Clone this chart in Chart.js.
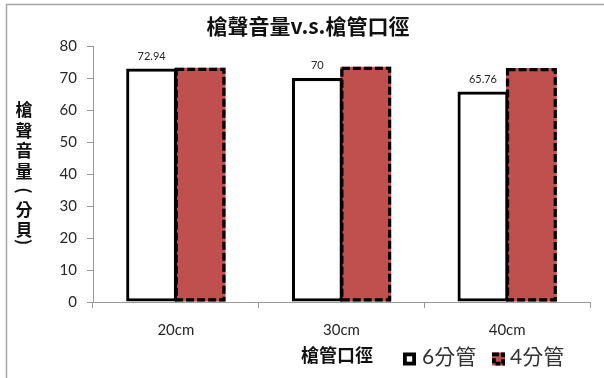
<!DOCTYPE html>
<html>
<head>
<meta charset="utf-8">
<script src="https://cdn.jsdelivr.net/npm/chart.js@4"></script>
<style>
  html, body { margin: 0; padding: 0; background: #ffffff; }
  #wrap { width: 604px; height: 378px; }
</style>
</head>
<body>
<div id="wrap"><canvas id="c" width="604" height="378"></canvas></div>
<script>
// Barrel diameter categories and measured gunshot loudness (dB)
const categories = ['20cm', '30cm', '40cm'];
const seriesNames = ['6分管', '4分管'];
const pipe6 = [72.94, 70, 65.76];
const pipe4 = [73.2, 73.5, 73.1];
const yTickValues = [0, 10, 20, 30, 40, 50, 60, 70, 80];

const chartTitle = '槍聲音量v.s.槍管口徑';
const yTitleChars = ['槍', '聲', '音', '量', '(', '分', '貝', ')'];
const xTitle = '槍管口徑';

const RED = '#C0504D';
const TEXT = '#262626';
const LATIN = "Lato, 'Noto Sans CJK TC', sans-serif";
const CJK = "'Noto Sans CJK TC', Lato, sans-serif";

// Outer frame line (left and top edges)
const framePlugin = {
  id: 'frame',
  beforeDraw(chart) {
    const ctx = chart.ctx;
    ctx.save();
    ctx.fillStyle = '#ffffff';
    ctx.fillRect(0, 0, chart.width, chart.height);
    ctx.strokeStyle = '#a6a6a6';
    ctx.lineWidth = 1.5;
    ctx.beginPath();
    ctx.moveTo(6.5, chart.height);
    ctx.lineTo(6.5, 4.5);
    ctx.lineTo(chart.width, 4.5);
    ctx.stroke();
    ctx.restore();
  }
};

// Dashed outline for the second series, plus value labels on the first
const barExtras = {
  id: 'barExtras',
  afterDatasetsDraw(chart) {
    const ctx = chart.ctx;
    ctx.save();
    const meta4 = chart.getDatasetMeta(1);
    ctx.strokeStyle = '#000000';
    ctx.lineWidth = 3.2;
    ctx.setLineDash([8, 3]);
    meta4.data.forEach(el => {
      const p = el.getProps(['x', 'y', 'base', 'width'], true);
      const left = p.x - p.width / 2;
      ctx.strokeRect(left + 1.6, p.y + 1.6, p.width - 3.2, p.base - p.y - 3.2);
    });
    ctx.setLineDash([]);

    const meta6 = chart.getDatasetMeta(0);
    ctx.fillStyle = TEXT;
    ctx.font = '11px ' + LATIN;
    ctx.textAlign = 'center';
    ctx.textBaseline = 'middle';
    meta6.data.forEach((el, i) => {
      const p = el.getProps(['x', 'y'], true);
      ctx.fillText(String(chart.data.datasets[0].data[i]), p.x, p.y - 12.5);
    });
    ctx.restore();
  }
};

// Title, vertical y-axis title, x-axis title and legend
const textPlugin = {
  id: 'texts',
  afterDraw(chart) {
    const ctx = chart.ctx;
    ctx.save();
    ctx.fillStyle = '#111111';
    ctx.textAlign = 'center';
    ctx.textBaseline = 'middle';
    ctx.font = 'bold 21px ' + CJK;
    ctx.fillText(chartTitle, 308, 26);

    // stacked vertical y title
    ctx.font = 'bold 17px ' + CJK;
    const steps = { '(': 17.5, ')': 3.5 };
    let y = 110, prevH = null;
    yTitleChars.forEach(ch => {
      const h = steps[ch] !== undefined ? steps[ch] : 20.5;
      if (prevH !== null) y += (prevH + h) / 2;
      prevH = h;
      if (ch === '(' || ch === ')') {
        ctx.save();
        ctx.translate(24, y);
        ctx.rotate(Math.PI / 2);
        ctx.fillText(ch, 0, 0);
        ctx.restore();
      } else {
        ctx.fillText(ch, 24, y);
      }
    });

    // x-axis title
    ctx.font = 'bold 18px ' + CJK;
    ctx.fillText(xTitle, 337, 355);

    // legend
    const ds = chart.data.datasets;
    ctx.textAlign = 'left';
    ctx.font = '21px ' + LATIN;
    const items = [
      { box: 403, text: 422 },
      { box: 492, text: 510 }
    ];
    items.forEach((it, i) => {
      ctx.fillStyle = ds[i].backgroundColor;
      ctx.fillRect(it.box, 352.5, 13, 13);
      ctx.strokeStyle = '#000000';
      ctx.lineWidth = 3.8;
      ctx.setLineDash(i === 1 ? [5, 2] : []);
      ctx.strokeRect(it.box + 1.9, 354.4, 9.2, 9.2);
      ctx.setLineDash([]);
      ctx.fillStyle = '#333333';
      ctx.fillText(ds[i].label, it.text, 357);
    });
    ctx.restore();
  }
};

new Chart(document.getElementById('c'), {
  type: 'bar',
  data: {
    labels: categories,
    datasets: [
      {
        label: seriesNames[0],
        data: pipe6,
        backgroundColor: '#ffffff',
        borderColor: '#000000',
        borderWidth: 3.2,
        borderSkipped: false,
        barPercentage: 1.05,
        categoryPercentage: 0.585
      },
      {
        label: seriesNames[1],
        data: pipe4,
        backgroundColor: RED,
        borderWidth: 0,
        barPercentage: 1.05,
        categoryPercentage: 0.585
      }
    ]
  },
  options: {
    responsive: false,
    animation: false,
    devicePixelRatio: 1,
    layout: { padding: { top: 46, right: 14, bottom: 0, left: 0 } },
    plugins: {
      legend: { display: false },
      title: { display: false },
      tooltip: { enabled: false }
    },
    scales: {
      x: {
        afterFit(s) { s.height = 76; },
        grid: { drawOnChartArea: false, tickLength: 6, color: '#999999', offset: true },
        border: { color: '#999999', width: 1 },
        ticks: { color: TEXT, font: { family: LATIN, size: 15 }, padding: 13 }
      },
      y: {
        min: 0,
        max: 80,
        afterFit(s) { s.width = 93; },
        afterBuildTicks(s) { s.ticks = yTickValues.map(v => ({ value: v })); },
        grid: { drawOnChartArea: false, tickLength: 6, color: '#999999' },
        border: { color: '#999999', width: 1 },
        ticks: { color: TEXT, font: { family: LATIN, size: 15 }, padding: 10 }
      }
    }
  },
  plugins: [framePlugin, barExtras, textPlugin]
});
</script>
</body>
</html>
